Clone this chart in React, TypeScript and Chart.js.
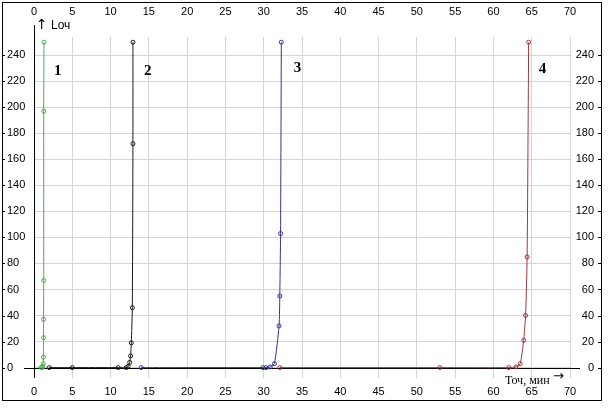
import React, { useEffect, useRef } from "react";
import { Chart, registerables } from "chart.js";

Chart.register(...registerables);

// Tick labels
const xTicks = [0, 5, 10, 15, 20, 25, 30, 35, 40, 45, 50, 55, 60, 65, 70];
const yTicks = [0, 20, 40, 60, 80, 100, 120, 140, 160, 180, 200, 220, 240];

// Series 1 (green)
const s1X = [0.9, 1.05, 1.15, 1.2, 1.22, 1.25, 1.25, 1.27, 1.27, 1.3];
const s1Y = [0, 0, 1, 3, 8, 23, 37, 67, 197, 250];
// Series 2 (black)
const s2X = [2, 5, 11, 12.05, 12.3, 12.5, 12.62, 12.71, 12.84, 12.92, 12.92];
const s2Y = [0, 0, 0, 0, 1, 4, 9, 19, 46, 172, 250];
// Series 3 (blue)
const s3X = [14, 29.9, 30.3, 30.85, 31.4, 32.0, 32.1, 32.2, 32.3];
const s3Y = [0, 0, 0, 0.5, 3, 32, 55, 103, 250];
// Series 4 (red)
const s4X = [32.1, 53, 62, 62.95, 63.5, 63.95, 64.2, 64.4, 64.6];
const s4Y = [0, 0, 0, 0.5, 3, 21, 40, 85, 250];

const seriesNames = ["1", "2", "3", "4"];
const seriesColors = ["#4caa4c", "#1a1a1a", "#32329a", "#a0363a"];
const seriesX = [s1X, s2X, s3X, s4X];
const seriesY = [s1Y, s2Y, s3Y, s4Y];
const seriesLabelAt = [
  [3.1, 228],
  [14.85, 228],
  [34.4, 230],
  [66.4, 229.4],
];

const font = { family: "'Liberation Sans', Arial, sans-serif", size: 11 };

const overlay = {
  id: "overlay",
  beforeDatasetsDraw(chart: any) {
    const { ctx, scales } = chart;
    const x = scales.x;
    const y = scales.y;
    const x0 = Math.round(x.getPixelForValue(0)) + 0.5;
    const y0 = Math.round(y.getPixelForValue(0)) + 0.5;
    ctx.save();
    ctx.strokeStyle = "#000";
    ctx.lineWidth = 1;
    ctx.beginPath();
    ctx.moveTo(24, y0);
    ctx.lineTo(580, y0);
    ctx.moveTo(x0, 25);
    ctx.lineTo(x0, chart.chartArea.bottom);
    ctx.stroke();
    ctx.restore();
  },
  afterDraw(chart: any) {
    const { ctx, scales } = chart;
    const x = scales.x;
    const y = scales.y;
    ctx.save();
    // frame
    ctx.strokeStyle = "#000";
    ctx.lineWidth = 1;
    ctx.strokeRect(2.5, 2.5, 599, 398);
    // tick marks at frame
    ctx.beginPath();
    yTicks.forEach((v) => {
      const p = Math.round(y.getPixelForValue(v)) + 0.5;
      ctx.moveTo(2, p);
      ctx.lineTo(5, p);
      ctx.moveTo(598, p);
      ctx.lineTo(602, p);
    });
    ctx.stroke();
    // series labels
    ctx.fillStyle = "#000";
    ctx.font = "bold 15px 'Liberation Serif', 'Times New Roman', serif";
    ctx.textAlign = "center";
    ctx.textBaseline = "middle";
    seriesNames.forEach((n, i) => {
      ctx.fillText(n, x.getPixelForValue(seriesLabelAt[i][0]), y.getPixelForValue(seriesLabelAt[i][1]));
    });
    // axis captions
    ctx.textAlign = "left";
    ctx.font = "14px 'DejaVu Sans', sans-serif";
    ctx.fillText("↑", 36, 25);
    ctx.font = "12px 'Liberation Sans', Arial, sans-serif";
    ctx.fillText("Lоч", 51, 26);
    ctx.font = "12px 'Liberation Serif', 'Times New Roman', serif";
    ctx.textBaseline = "alphabetic";
    ctx.fillText("Точ, мин", 505, 384);
    ctx.font = "13px 'DejaVu Sans', sans-serif";
    ctx.textBaseline = "middle";
    ctx.fillText("→", 553, 377);
    ctx.restore();
  },
};

export default function App() {
  const ref = useRef<HTMLCanvasElement | null>(null);

  useEffect(() => {
    if (!ref.current) return;
    const datasets = seriesNames.map((n, i) => ({
      label: n,
      data: seriesX[i].map((xv, j) => ({ x: xv, y: seriesY[i][j] })),
      borderColor: seriesColors[i],
      backgroundColor: "#ffffff",
      pointBorderColor: seriesColors[i],
      pointBackgroundColor: "rgba(255,255,255,0)",
      pointRadius: 2,
      pointBorderWidth: 1,
      borderWidth: 1,
      tension: 0.2,
      showLine: true,
      fill: false,
    }));
    const setTicks = (vals: number[]) => (s: any) => {
      s.ticks = vals.map((v) => ({ value: v }));
    };
    const chart = new Chart(ref.current, {
      type: "scatter",
      data: { datasets },
      plugins: [overlay],
      options: {
        animation: false,
        responsive: false,
        devicePixelRatio: 1,
        layout: { padding: { left: 7, right: 14, top: 0, bottom: 0 } },
        plugins: { legend: { display: false }, tooltip: { enabled: false } },
        scales: {
          x: {
            type: "linear",
            position: "bottom",
            min: 0,
            max: 70,
            afterBuildTicks: setTicks(xTicks),
            afterFit: (s: any) => {
              s.height = 30;
            },
            grid: { color: "#d4d4d4", lineWidth: 1, drawTicks: false },
            border: { display: false },
            ticks: { padding: 7, font, color: "#000", maxRotation: 0, autoSkip: false },
          },
          xTop: {
            type: "linear",
            position: "top",
            min: 0,
            max: 70,
            afterBuildTicks: setTicks(xTicks),
            afterFit: (s: any) => {
              s.height = 37;
            },
            grid: { display: false, drawTicks: false },
            border: { display: false },
            ticks: { padding: 18, font, color: "#000", maxRotation: 0, autoSkip: false },
          },
          y: {
            type: "linear",
            position: "left",
            min: -8,
            max: 254,
            afterBuildTicks: setTicks(yTicks),
            afterFit: (s: any) => {
              s.width = 27;
            },
            grid: { color: "#d4d4d4", lineWidth: 1, drawTicks: false },
            border: { display: false },
            ticks: { padding: 0, font, color: "#000", crossAlign: "far", autoSkip: false },
          },
          y2: {
            type: "linear",
            position: "right",
            min: -8,
            max: 254,
            afterBuildTicks: setTicks(yTicks),
            afterFit: (s: any) => {
              s.width = 24;
            },
            grid: { display: false, drawTicks: false },
            border: { display: false },
            ticks: { padding: 0, font, color: "#000", crossAlign: "far", autoSkip: false },
          },
        },
      } as any,
    });
    return () => chart.destroy();
  }, []);

  return (
    <div style={{ position: "fixed", left: 0, top: 0, width: 608, height: 408, background: "#fff" }}>
      <canvas ref={ref} width={608} height={408} style={{ display: "block" }} />
    </div>
  );
}
